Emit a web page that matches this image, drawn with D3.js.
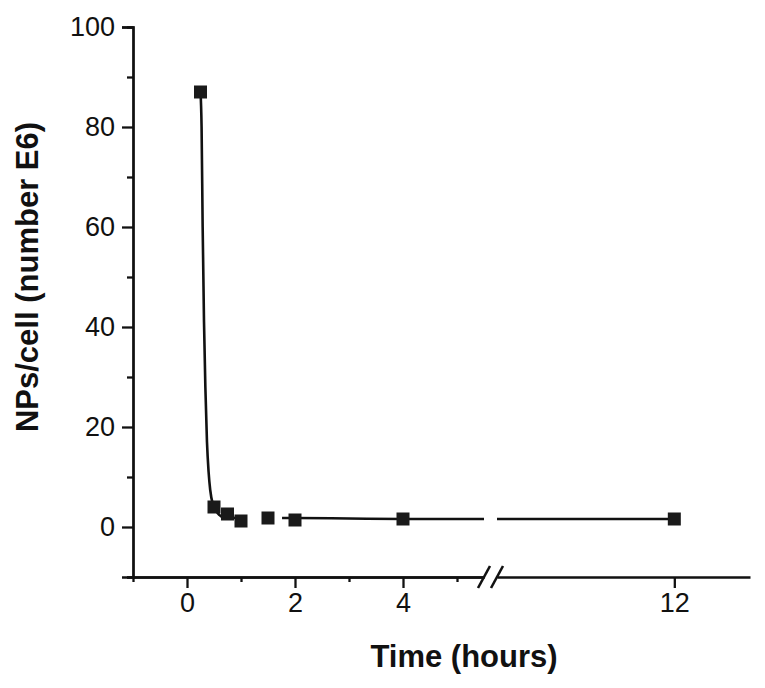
<!DOCTYPE html>
<html>
<head>
<meta charset="utf-8">
<script src="https://cdn.jsdelivr.net/npm/d3@7"></script>
<style>
  body { margin: 0; background: #fff; }
  text { font-family: "Liberation Sans", Arial, sans-serif; fill: #111; }
</style>
</head>
<body>
<div id="chart"></div>
<script>
// measured points (hours, NPs per cell in E6)
var times = [0.25, 0.5, 0.75, 1, 1.5, 2, 4, 12];
var counts = [87, 4, 2.6, 1.2, 1.8, 1.4, 1.6, 1.6];

// fitted curve in three pieces (gaps as drawn)
var fitA = [[0.25, 87], [0.27, 80], [0.29, 60], [0.315, 41], [0.34, 28], [0.37, 17],
            [0.40, 11], [0.43, 7.4], [0.48, 4.5], [0.53, 3.4], [0.6, 2.4], [0.65, 2.0],
            [0.75, 1.9], [1.0, 1.8]];
var fitB = [[1.76, 1.8], [2, 1.8], [3, 1.7], [4, 1.6], [5.5, 1.6]];
var fitC = [[8.72, 1.6], [12, 1.6]];

// ticks
var yMajor = [0, 20, 40, 60, 80, 100];
var yMinor = [-10, 10, 30, 50, 70, 90];
var xMajorLeft = [0, 2, 4];
var xMinorLeft = [-1, 1, 3, 5];
var xMajorRight = [12];

var svgWidth = 765;
var svgHeight = 688;

var svg = d3.select("#chart")
  .append("svg")
  .attr("width", svgWidth)
  .attr("height", svgHeight);

// broken x axis: two scales, same px per hour
var xLeft = d3.scaleLinear().domain([-1, 5.5]).range([133, 484]);
var xRight = d3.scaleLinear().domain([8.72, 13.4]).range([497, 750]);
var yScale = d3.scaleLinear().domain([-10, 100]).range([577, 27]);

function xPos(t) {
  return t < 7 ? xLeft(t) : xRight(t);
}

var ink = "#111";
var fmt = d3.format("d");

// y axis
var yAxis = d3.axisLeft(yScale).tickValues(yMajor).tickSize(11).tickPadding(7).tickFormat(fmt);
var yAxisMinor = d3.axisLeft(yScale).tickValues(yMinor).tickSize(6).tickFormat("");

svg.append("g").attr("transform", "translate(133,0)").call(yAxisMinor);
svg.append("g").attr("class", "lab").attr("transform", "translate(133,0)").call(yAxis);

// x axis left piece
var xAxisL = d3.axisBottom(xLeft).tickValues(xMajorLeft).tickSize(11).tickPadding(5).tickSizeOuter(0).tickFormat(fmt);
var xAxisLMinor = d3.axisBottom(xLeft).tickValues(xMinorLeft).tickSize(5).tickFormat("").tickSizeOuter(0);
svg.append("g").attr("transform", "translate(0,577)").call(xAxisLMinor);
svg.append("g").attr("class", "lab").attr("transform", "translate(0,577)").call(xAxisL);

// x axis right piece
var xAxisR = d3.axisBottom(xRight).tickValues(xMajorRight).tickSize(11).tickPadding(5).tickSizeOuter(0).tickFormat(fmt);
svg.append("g").attr("class", "lab").attr("transform", "translate(0,577)").call(xAxisR);

svg.selectAll(".lab text")
  .style("font-size", "27px")
  .style("fill", "#111");

svg.selectAll(".domain, .tick line")
  .attr("stroke", ink)
  .attr("stroke-width", 2.3);

// break marks
svg.selectAll(".brk")
  .data([5.5, 8.72])
  .enter()
  .append("line")
  .attr("class", "brk")
  .attr("x1", d => xPos(d) - 6)
  .attr("y1", 588)
  .attr("x2", d => xPos(d) + 6)
  .attr("y2", 566)
  .attr("stroke", ink)
  .attr("stroke-width", 2.6);

// fit line
var line = d3.line()
  .x(d => xPos(d[0]))
  .y(d => yScale(d[1]))
  .curve(d3.curveMonotoneX);

svg.selectAll(".fit")
  .data([fitA, fitB, fitC])
  .enter()
  .append("path")
  .attr("class", "fit")
  .attr("d", line)
  .attr("fill", "none")
  .attr("stroke", ink)
  .attr("stroke-width", 2.6);

// square markers
var sz = 13;
svg.selectAll(".pt")
  .data(times.map((t, i) => [t, counts[i]]))
  .enter()
  .append("rect")
  .attr("class", "pt")
  .attr("x", d => xPos(d[0]) - sz / 2)
  .attr("y", d => yScale(d[1]) - sz / 2)
  .attr("width", sz)
  .attr("height", sz)
  .attr("fill", "#1a1a1a");

// axis titles
svg.append("text")
  .attr("x", 464)
  .attr("y", 667)
  .attr("text-anchor", "middle")
  .style("font-size", "31px")
  .attr("font-weight", "bold")
  .text("Time (hours)");

svg.append("text")
  .attr("transform", "translate(38,277) rotate(-90)")
  .attr("text-anchor", "middle")
  .style("font-size", "31px")
  .attr("font-weight", "bold")
  .text("NPs/cell (number E6)");
</script>
</body>
</html>
